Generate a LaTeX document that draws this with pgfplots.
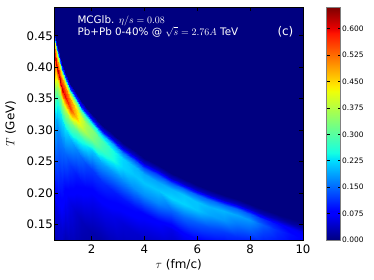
\documentclass[border=0pt]{standalone}
\usepackage[no-math]{fontspec}
\setmainfont{DejaVu Sans}
\usepackage{pgfplots}
\pgfplotsset{compat=1.18}
\definecolor{navy}{rgb}{0,0,0.5}
\pgfplotsset{colormap={mpljet}{[1pt] rgb(0pt)=(0,0,0.5); rgb(22pt)=(0,0,1); rgb(25pt)=(0,0,1); rgb(68pt)=(0,0.86,1); rgb(70pt)=(0,0.9,0.968); rgb(75pt)=(0.081,1,0.887); rgb(128pt)=(0.935,1,0.032); rgb(130pt)=(0.968,0.963,0); rgb(132pt)=(1,0.926,0); rgb(178pt)=(1,0.074,0); rgb(182pt)=(0.909,0,0); rgb(200pt)=(0.5,0,0)}}
\begin{document}
\begin{tikzpicture}
\useasboundingbox (-54.5bp,-40bp) rectangle (319.5bp,240bp);
\begin{axis}[
  at={(0,0)}, anchor=south west,
  scale only axis, width=248.5bp, height=232.5bp,
  xmin=0.6, xmax=10, ymin=0.125, ymax=0.495,
  enlargelimits=false,
  axis on top,
  axis background/.style={fill=navy},
  colormap name=mpljet,
  point meta min=0, point meta max=0.66,
  xtick={2,4,6,8,10}, xticklabels={2,4,6,8,10},
  ytick={0.15,0.20,0.25,0.30,0.35,0.40,0.45},
  yticklabels={0.15,0.20,0.25,0.30,0.35,0.40,0.45},
  tick align=inside, xtick pos=both, ytick pos=both,
  xticklabel pos=bottom, yticklabel pos=left,
  major tick length=4bp,
  tick style={black, line width=0.6bp},
  axis line style={line width=0.8bp, black},
  xticklabel style={font=\fontsize{11.8}{13}\selectfont, inner sep=0pt, anchor=north, yshift=-5bp},
  yticklabel style={font=\fontsize{11.8}{13}\selectfont, inner sep=0pt, anchor=east, xshift=-1.5bp},
  xlabel={$\tau$ (fm/c)},
  ylabel={$T$ (GeV)},
  xlabel style={font=\fontsize{12}{14}\selectfont, at={([yshift=-29bp]axis description cs:0.5,0)}, anchor=base, inner sep=0pt},
  ylabel style={font=\fontsize{12}{14}\selectfont, at={([xshift=-40bp]axis description cs:0,0.5)}, anchor=base, inner sep=0pt},
  colorbar,
  colorbar style={
    at={(parent axis.north east)}, anchor=north west, xshift=15bp,
    scale only axis, width=14bp, height=232.5bp,
    ytick={0,0.075,0.15,0.225,0.3,0.375,0.45,0.525,0.6},
    yticklabels={0.000,0.075,0.150,0.225,0.300,0.375,0.450,0.525,0.600},
    yticklabel style={font=\fontsize{7.5}{9}\selectfont, anchor=west, inner sep=0pt, xshift=1.5bp},
    ytick align=inside, major tick length=3bp,
    tick style={black, line width=0.5bp},
    axis line style={line width=0.6bp, gray},
  },
]
\addplot[surf, shader=interp, mesh/rows=12, mesh/cols=27, mesh/ordering=y varies, point meta=explicit]
  table[header=false, x index=0, y index=1, meta index=2] {
0.6 0.092 0.01
0.6 0.192 0.06
0.6 0.272 0.15
0.6 0.332 0.22
0.6 0.372 0.36
0.6 0.402 0.55
0.6 0.422 0.60
0.6 0.436 0.55
0.6 0.446 0.42
0.6 0.454 0.12
0.6 0.462 0
0.6 0.50 0
0.7 0.068 0.01
0.7 0.168 0.055
0.7 0.248 0.13
0.7 0.308 0.18
0.7 0.348 0.26
0.7 0.378 0.40
0.7 0.398 0.62
0.7 0.412 0.50
0.7 0.422 0.38
0.7 0.430 0.12
0.7 0.438 0
0.7 0.50 0
0.8 0.050 0.01
0.8 0.150 0.05
0.8 0.230 0.11
0.8 0.290 0.17
0.8 0.330 0.24
0.8 0.360 0.38
0.8 0.380 0.63
0.8 0.394 0.50
0.8 0.404 0.38
0.8 0.412 0.12
0.8 0.420 0
0.8 0.50 0
0.9 0.036 0.01
0.9 0.136 0.045
0.9 0.216 0.10
0.9 0.276 0.16
0.9 0.316 0.23
0.9 0.346 0.38
0.9 0.366 0.62
0.9 0.380 0.52
0.9 0.390 0.38
0.9 0.398 0.12
0.9 0.406 0
0.9 0.50 0
1.0 0.024 0.01
1.0 0.124 0.03
1.0 0.204 0.08
1.0 0.264 0.15
1.0 0.304 0.23
1.0 0.334 0.38
1.0 0.354 0.60
1.0 0.368 0.52
1.0 0.378 0.38
1.0 0.386 0.12
1.0 0.394 0
1.0 0.50 0
1.2 0.005 0.01
1.2 0.105 0.025
1.2 0.185 0.06
1.2 0.245 0.12
1.2 0.285 0.20
1.2 0.315 0.34
1.2 0.335 0.56
1.2 0.349 0.50
1.2 0.359 0.36
1.2 0.367 0.11
1.2 0.375 0
1.2 0.50 0
1.4 -0.010 0.01
1.4 0.090 0.02
1.4 0.170 0.045
1.4 0.230 0.10
1.4 0.270 0.17
1.4 0.300 0.30
1.4 0.320 0.47
1.4 0.334 0.45
1.4 0.344 0.33
1.4 0.352 0.10
1.4 0.360 0
1.4 0.50 0
1.6 -0.023 0.01
1.6 0.077 0.015
1.6 0.157 0.035
1.6 0.217 0.09
1.6 0.257 0.15
1.6 0.287 0.27
1.6 0.307 0.40
1.6 0.321 0.40
1.6 0.331 0.30
1.6 0.339 0.09
1.6 0.347 0
1.6 0.50 0
1.8 -0.034 0.01
1.8 0.066 0.01
1.8 0.146 0.03
1.8 0.206 0.08
1.8 0.246 0.13
1.8 0.276 0.24
1.8 0.296 0.36
1.8 0.310 0.36
1.8 0.320 0.27
1.8 0.328 0.08
1.8 0.336 0
1.8 0.50 0
2.0 -0.044 0.01
2.0 0.056 0.01
2.0 0.136 0.025
2.0 0.196 0.07
2.0 0.236 0.12
2.0 0.266 0.21
2.0 0.286 0.33
2.0 0.300 0.34
2.0 0.310 0.25
2.0 0.318 0.07
2.0 0.326 0
2.0 0.50 0
2.4 -0.062 0.01
2.4 0.038 0.01
2.4 0.118 0.02
2.4 0.178 0.065
2.4 0.218 0.11
2.4 0.248 0.19
2.4 0.268 0.28
2.4 0.282 0.29
2.4 0.292 0.22
2.4 0.300 0.06
2.4 0.308 0
2.4 0.50 0
2.8 -0.077 0.01
2.8 0.023 0.01
2.8 0.103 0.02
2.8 0.163 0.06
2.8 0.203 0.10
2.8 0.233 0.18
2.8 0.253 0.25
2.8 0.267 0.25
2.8 0.277 0.19
2.8 0.285 0.05
2.8 0.293 0
2.8 0.50 0
3.2 -0.090 0.01
3.2 0.010 0.01
3.2 0.090 0.02
3.2 0.150 0.05
3.2 0.190 0.095
3.2 0.220 0.175
3.2 0.240 0.22
3.2 0.254 0.22
3.2 0.264 0.16
3.2 0.272 0.05
3.2 0.280 0
3.2 0.50 0
3.6 -0.102 0.01
3.6 -0.002 0.01
3.6 0.078 0.02
3.6 0.138 0.045
3.6 0.178 0.09
3.6 0.208 0.175
3.6 0.228 0.21
3.6 0.242 0.20
3.6 0.252 0.14
3.6 0.260 0.04
3.6 0.268 0
3.6 0.50 0
4.0 -0.114 0.01
4.0 -0.014 0.01
4.0 0.066 0.02
4.0 0.126 0.04
4.0 0.166 0.08
4.0 0.196 0.175
4.0 0.216 0.21
4.0 0.230 0.19
4.0 0.240 0.13
4.0 0.248 0.04
4.0 0.256 0
4.0 0.50 0
4.5 -0.126 0.01
4.5 -0.026 0.01
4.5 0.054 0.02
4.5 0.114 0.035
4.5 0.154 0.075
4.5 0.184 0.17
4.5 0.204 0.21
4.5 0.218 0.19
4.5 0.228 0.13
4.5 0.236 0.04
4.5 0.244 0
4.5 0.50 0
5.0 -0.138 0.01
5.0 -0.038 0.01
5.0 0.042 0.02
5.0 0.102 0.03
5.0 0.142 0.06
5.0 0.172 0.15
5.0 0.192 0.22
5.0 0.206 0.20
5.0 0.216 0.14
5.0 0.224 0.04
5.0 0.232 0
5.0 0.50 0
5.5 -0.148 0.01
5.5 -0.048 0.01
5.5 0.032 0.01
5.5 0.092 0.03
5.5 0.132 0.07
5.5 0.162 0.15
5.5 0.182 0.22
5.5 0.196 0.21
5.5 0.206 0.15
5.5 0.214 0.04
5.5 0.222 0
5.5 0.50 0
6.0 -0.158 0.01
6.0 -0.058 0.01
6.0 0.022 0.01
6.0 0.082 0.03
6.0 0.122 0.07
6.0 0.152 0.14
6.0 0.172 0.21
6.0 0.186 0.21
6.0 0.196 0.15
6.0 0.204 0.04
6.0 0.212 0
6.0 0.50 0
6.5 -0.166 0.01
6.5 -0.066 0.01
6.5 0.014 0.01
6.5 0.074 0.03
6.5 0.114 0.065
6.5 0.144 0.13
6.5 0.164 0.19
6.5 0.178 0.20
6.5 0.188 0.15
6.5 0.196 0.04
6.5 0.204 0
6.5 0.50 0
7.0 -0.173 0.01
7.0 -0.073 0.01
7.0 0.007 0.01
7.0 0.067 0.03
7.0 0.107 0.06
7.0 0.137 0.12
7.0 0.157 0.18
7.0 0.171 0.20
7.0 0.181 0.15
7.0 0.189 0.04
7.0 0.197 0
7.0 0.50 0
7.5 -0.180 0.01
7.5 -0.080 0.01
7.5 0.000 0.01
7.5 0.060 0.03
7.5 0.100 0.06
7.5 0.130 0.11
7.5 0.150 0.16
7.5 0.164 0.19
7.5 0.174 0.15
7.5 0.182 0.04
7.5 0.190 0
7.5 0.50 0
8.0 -0.187 0.01
8.0 -0.087 0.01
8.0 -0.007 0.01
8.0 0.053 0.03
8.0 0.093 0.06
8.0 0.123 0.10
8.0 0.143 0.15
8.0 0.157 0.18
8.0 0.167 0.14
8.0 0.175 0.04
8.0 0.183 0
8.0 0.50 0
8.5 -0.195 0.01
8.5 -0.095 0.01
8.5 -0.015 0.01
8.5 0.045 0.03
8.5 0.085 0.05
8.5 0.115 0.09
8.5 0.135 0.12
8.5 0.149 0.14
8.5 0.159 0.11
8.5 0.167 0.03
8.5 0.175 0
8.5 0.50 0
9.0 -0.203 0.01
9.0 -0.103 0.01
9.0 -0.023 0.01
9.0 0.037 0.03
9.0 0.077 0.05
9.0 0.107 0.08
9.0 0.127 0.10
9.0 0.141 0.11
9.0 0.151 0.09
9.0 0.159 0.03
9.0 0.167 0
9.0 0.50 0
9.5 -0.210 0.01
9.5 -0.110 0.01
9.5 -0.030 0.01
9.5 0.030 0.03
9.5 0.070 0.045
9.5 0.100 0.07
9.5 0.120 0.085
9.5 0.134 0.09
9.5 0.144 0.07
9.5 0.152 0.02
9.5 0.160 0
9.5 0.50 0
10.0 -0.217 0.01
10.0 -0.117 0.01
10.0 -0.037 0.01
10.0 0.023 0.03
10.0 0.063 0.04
10.0 0.093 0.065
10.0 0.113 0.075
10.0 0.127 0.08
10.0 0.137 0.06
10.0 0.145 0.02
10.0 0.153 0
10.0 0.50 0
};
\node[anchor=base west, text=white, font=\fontsize{10.4}{12}\selectfont, inner sep=0pt] at (axis description cs:0.0918,0.932) {MCGlb. $\eta/s=0.08$};
\node[anchor=base west, text=white, font=\fontsize{10.4}{12}\selectfont, inner sep=0pt] at (axis description cs:0.0918,0.8817) {Pb+Pb 0-40\% @ $\sqrt{s}=2.76A$ TeV};
\node[anchor=base west, text=white, font=\fontsize{12}{14}\selectfont, inner sep=0pt] at (axis description cs:0.8966,0.8817) {(c)};
\end{axis}
\end{tikzpicture}
\end{document}
